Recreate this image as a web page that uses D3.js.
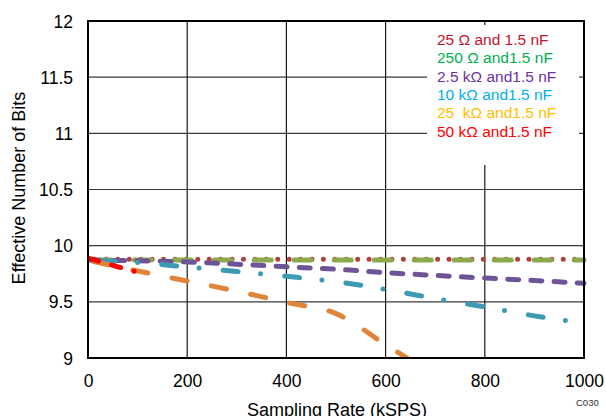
<!DOCTYPE html>
<html>
<head>
<meta charset="utf-8">
<script src="https://cdn.jsdelivr.net/npm/d3@7"></script>
<style>
  html, body { margin: 0; padding: 0; background: #fff; }
  svg { display: block; font-family: "Liberation Sans", Arial, sans-serif; }
</style>
</head>
<body>
<svg id="chart" width="606" height="416"></svg>
<script>
// ---- data ----
const rates = [0, 100, 200, 300, 400, 500, 600, 700, 800, 900, 1000];
const enob25ohm  = [9.88, 9.88, 9.88, 9.88, 9.88, 9.88, 9.88, 9.88, 9.88, 9.88, 9.88];
const enob250ohm = [9.872, 9.872, 9.872, 9.872, 9.872, 9.872, 9.872, 9.872, 9.872, 9.872, 9.872];
const enob2k5    = [9.87, 9.866, 9.855, 9.835, 9.812, 9.79, 9.76, 9.735, 9.712, 9.69, 9.665];
const enob10k    = [9.87, 9.85, 9.81, 9.77, 9.727, 9.68, 9.61, 9.53, 9.455, 9.375, 9.31];
const rates25k   = [0, 100, 200, 300, 400, 500, 600, 700];
const enob25k    = [9.87, 9.775, 9.685, 9.595, 9.495, 9.395, 9.12, 8.84];
const rates50k   = [0, 50, 100];
const enob50k    = [9.89, 9.825, 9.763];

const xTicks = [0, 200, 400, 600, 800, 1000];
const yTicks = [9, 9.5, 10, 10.5, 11, 11.5, 12];

const legendLabels = ["25 \u03A9 and 1.5 nF", "250 \u03A9 and1.5 nF", "2.5 k\u03A9 and1.5 nF",
                      "10 k\u03A9 and1.5 nF", "25  k\u03A9 and1.5 nF", "50 k\u03A9 and1.5 nF"];
const legendColors = ["#C0142C", "#00B050", "#7030A0", "#00B0F0", "#FFC000", "#FF0000"];

const xTitle = "Sampling Rate (kSPS)";
const yTitle = "Effective Number of Bits";
const figId = "C030";

// ---- layout ----
const L = 88, R = 584, T = 21, B = 358;
const svg = d3.select("#chart");
const x = d3.scaleLinear().domain([0, 1000]).range([L, R]);
const y = d3.scaleLinear().domain([9, 12]).range([B, T]);

// gridlines
const grid = svg.append("g");
grid.selectAll("line.h").data(yTicks.filter(v => v > 9 && v < 12)).join("line")
  .attr("x1", L).attr("x2", R).attr("y1", d => y(d)).attr("y2", d => y(d))
  .attr("stroke", "#3a3a3a").attr("stroke-width", 1.2);
grid.selectAll("line.v").data(xTicks.filter(v => v > 0 && v < 1000)).join("line")
  .attr("x1", d => x(d)).attr("x2", d => x(d)).attr("y1", T).attr("y2", B)
  .attr("stroke", "#1a1a1a").attr("stroke-width", 1.2);

// series
svg.append("clipPath").attr("id", "plotclip").append("rect")
  .attr("x", L).attr("y", T - 5).attr("width", R - L + 5).attr("height", B - T + 5);

const line = d3.line().x(d => x(d[0])).y(d => y(d[1])).curve(d3.curveMonotoneX);
const zip = (xs, ys) => xs.map((v, i) => [v, ys[i]]);

const series = [
  { data: zip(rates, enob25ohm),  color: "#B0403C", dash: "0,11.42", offset: 4.4 },
  { data: zip(rates, enob250ohm), color: "#8CA94C", dash: "17,23", offset: 33.8 },
  { data: zip(rates, enob2k5),    color: "#6C5496", dash: "11,12.2", offset: 20.6 },
  { data: zip(rates, enob10k),    color: "#3C9AB5", dash: "15,22.5,0,24.2", offset: 49.5 },
  { data: zip(rates25k, enob25k), color: "#E0843A", dash: "15.4,24.7", offset: 34.4 },
  { data: zip(rates50k, enob50k), color: "#FF0000", dash: "9,13.5,9.5,14,0,300", offset: -2 }
];
const sg = svg.append("g").attr("clip-path", "url(#plotclip)");
sg.selectAll("path").data(series).join("path")
  .attr("d", d => line(d.data))
  .attr("fill", "none")
  .attr("stroke", d => d.color)
  .attr("stroke-width", 5)
  .attr("stroke-linecap", "round")
  .attr("stroke-dasharray", d => d.dash)
  .attr("stroke-dashoffset", d => d.offset);

// legend (white box, covers grid)
svg.append("rect").attr("x", 427).attr("y", 25).attr("width", 152).attr("height", 140).attr("fill", "#fff");
svg.append("g").selectAll("text").data(legendLabels).join("text")
  .attr("x", 437).attr("y", (d, i) => 45 + i * 18.3)
  .attr("fill", (d, i) => legendColors[i])
  .style("font-size", "15.5px")
  .style("white-space", "pre")
  .text(d => d);

// frame
svg.append("rect").attr("x", L).attr("y", T).attr("width", R - L).attr("height", B - T)
  .attr("fill", "none").attr("stroke", "#000").attr("stroke-width", 2);

// axes (labels only)
const xAxis = d3.axisBottom(x).tickValues(xTicks).tickSize(0).tickPadding(0).tickFormat(d3.format("d"));
const gx = svg.append("g").attr("transform", `translate(0,${B})`).call(xAxis);
gx.select(".domain").remove();
gx.selectAll("text").attr("dy", null).attr("y", 29).attr("fill", "#000")
  .style("font-size", "17.5px").style("font-family", "Liberation Sans, Arial, sans-serif");

const yAxis = d3.axisLeft(y).tickValues(yTicks).tickSize(0).tickPadding(0).tickFormat(d => String(d));
const gy = svg.append("g").attr("transform", `translate(73,0)`).call(yAxis);
gy.select(".domain").remove();
gy.selectAll("text").attr("x", 0).attr("dy", "0.35em").attr("fill", "#000")
  .style("font-size", "17.5px").style("font-family", "Liberation Sans, Arial, sans-serif");

// titles
svg.append("text").attr("x", 337).attr("y", 415.5).attr("text-anchor", "middle")
  .style("font-size", "18px").attr("fill", "#000").text(xTitle);
svg.append("text").attr("transform", "translate(25,188) rotate(-90)").attr("text-anchor", "middle")
  .style("font-size", "18px").attr("fill", "#000").text(yTitle);
svg.append("text").attr("x", 576).attr("y", 405.5)
  .style("font-size", "9.5px").attr("fill", "#333").text(figId);
</script>
</body>
</html>
